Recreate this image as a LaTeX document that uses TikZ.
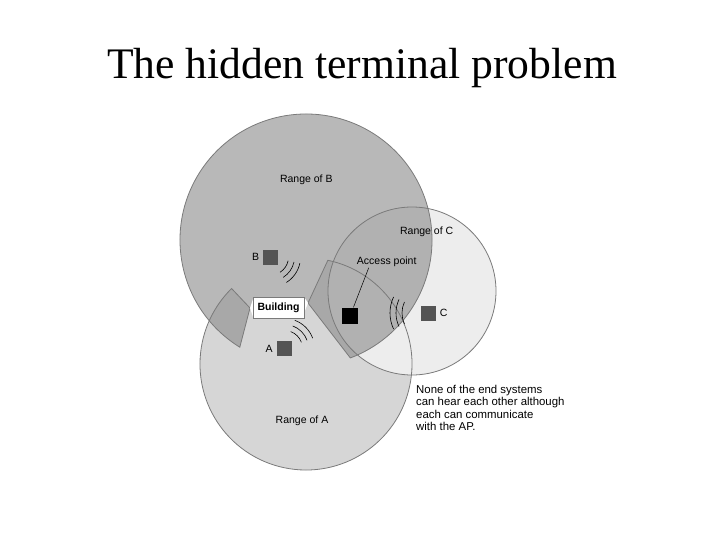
\documentclass[tikz,border=0pt]{standalone}
\usepackage{fontspec}
\setmainfont{Liberation Serif}
\newfontfamily\labelfont{Liberation Sans}
\usetikzlibrary{calc}
\usetikzlibrary{positioning}

\definecolor{rangeAgray}{gray}{0.84}
\definecolor{rangeBgray}{gray}{0.54}
\definecolor{rangeCgray}{gray}{0.93}
\definecolor{rimgray}{gray}{0.48}
\definecolor{stationgray}{gray}{0.33}

\begin{document}
\begin{tikzpicture}[x=1pt,y=-1pt,
  rim/.style={draw=rimgray, line width=.8pt},
  station/.style={fill=stationgray, minimum size=15pt, inner sep=0},
  lbl/.style={font=\labelfont\fontsize{10.5}{12}\selectfont, inner sep=1pt},
  wave/.style={black, line width=.6pt}]
\useasboundingbox[fill=white] (0,0) rectangle (720,540);

\node[font=\fontsize{43.6}{50}\selectfont, anchor=base] (title) at (362,79) {The hidden terminal problem};

% centres of the three ranges and the corners of the building shadows
\coordinate (cA) at (306,364);
\coordinate (cB) at (306,240);
\coordinate (cC) at (412,291);
\coordinate (Lp) at (250,308);
\coordinate (Rp) at (308,303);

\fill[rangeAgray] (Rp) -- ($(cA)+(281.9:106)$) arc[start angle=281.9, end angle=585.4, radius=106] -- (Lp) -- cycle;
\fill[rangeCgray] (cC) circle[radius=84];
\fill[rangeBgray, fill opacity=.6] (Lp) -- ($(cB)+(121.7:126)$) arc[start angle=121.7, end angle=429.4, radius=126] -- (Rp) -- cycle;

\draw[rim] (Rp) -- ($(cA)+(281.9:106)$) arc[start angle=281.9, end angle=585.4, radius=106] -- (Lp);
\draw[rim] (cC) circle[radius=84];
\draw[rim] (Lp) -- ($(cB)+(121.7:126)$) arc[start angle=121.7, end angle=429.4, radius=126] -- (Rp);

% building
\fill[white] (Lp) -- (253,299) -- (253,317) -- cycle;
\fill[white] (Rp) -- (304,297) -- (304,313) -- cycle;
\node[rim, fill=white, minimum width=51pt, minimum height=21pt, inner sep=0,
  font=\labelfont\bfseries\fontsize{10.5}{12}\selectfont] (building) at (278.5,307.5) {Building};

% stations
\node[station] (B) at (270.5,257) {};
\node[station] (A) at (284.5,348.5) {};
\node[station] (C) at (428,313) {};
\node[station, fill=black, minimum size=16pt] (ap) at (350.3,315.5) {};

\node[lbl, left=2.5pt of B] (labB) {B};
\node[lbl, left=3pt of A] (labA) {A};
\node[lbl, right=3pt of C] (labC) {C};
\node[lbl] (aplabel) at (386.7,261.7) {Access point};
\draw[line width=.5pt] ([xshift=-18pt]aplabel.south) -- (ap);

\foreach \r in {18,24,30} {
  \draw[wave] ($(B)+(12:\r)$) arc[start angle=12, end angle=58, radius=\r];
  \draw[wave] ($(A)+(-70:\r)$) arc[start angle=-70, end angle=-20, radius=\r];
}
\foreach \r in {26,32,38}
  \draw[wave] ($(C)+(155:\r)$) arc[start angle=155, end angle=205, radius=\r];

\node[lbl] (rangeB) at (306.3,179.3) {Range of B};
\node[lbl] (rangeC) at (426.7,231.7) {Range of C};
\node[lbl] (rangeA) at (302,421) {Range of A};

\node[lbl, anchor=north west, align=left, inner sep=0,
  font=\labelfont\fontsize{11.4}{12.4}\selectfont] (note) at (416,385)
  {None of the end systems\\can hear each other although\\each can communicate\\with the AP.};
\end{tikzpicture}
\end{document}
